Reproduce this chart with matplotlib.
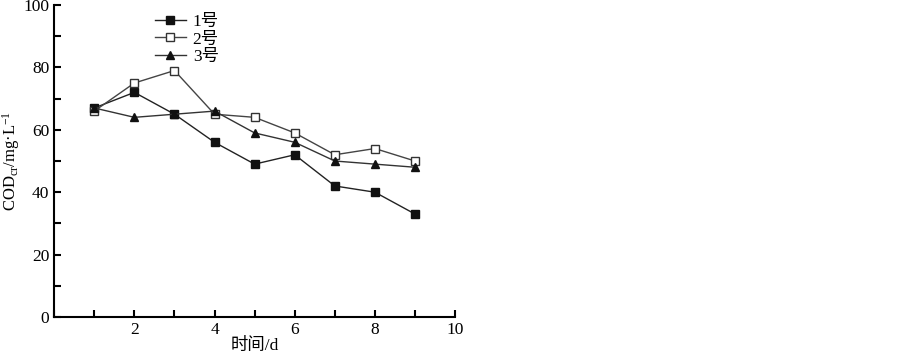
import matplotlib
matplotlib.use("Agg")
import matplotlib.pyplot as plt
from matplotlib.ticker import MultipleLocator

plt.rcParams['font.family'] = ['Liberation Serif', 'Noto Sans CJK SC']
plt.rcParams['mathtext.fontset'] = 'custom'
plt.rcParams['mathtext.rm'] = 'Liberation Serif'
plt.rcParams['mathtext.it'] = 'Liberation Serif'

days = [1, 2, 3, 4, 5, 6, 7, 8, 9]
cod_1 = [67, 72, 65, 56, 49, 52, 42, 40, 33]
cod_2 = [66, 75, 79, 65, 64, 59, 52, 54, 50]
cod_3 = [67, 64, 65, 66, 59, 56, 50, 49, 48]
labels = ['1号', '2号', '3号']

fig = plt.figure(figsize=(9.03, 3.59), dpi=100)
ax = fig.add_axes([0.06, 0.117, 0.444, 0.869])

ax.plot(days, cod_1, color='#222222', lw=1.0, marker='s', ms=5.5,
        mfc='#111111', mec='#111111', label=labels[0])
ax.plot(days, cod_2, color='#444444', lw=1.0, marker='s', ms=5.5,
        mfc='white', mec='#333333', label=labels[1])
ax.plot(days, cod_3, color='#333333', lw=1.0, marker='^', ms=6,
        mfc='#111111', mec='#111111', label=labels[2])

ax.set_xlim(0, 10)
ax.set_ylim(0, 100)
ax.set_xticks([2, 4, 6, 8, 10])
ax.xaxis.set_minor_locator(MultipleLocator(1))
ax.set_yticks([0, 20, 40, 60, 80, 100])
ax.yaxis.set_minor_locator(MultipleLocator(10))
ax.tick_params(which='both', direction='in', width=1.5, labelsize=12.5)
ax.tick_params(which='major', length=5)
ax.tick_params(which='minor', length=5)

for side in ['top', 'right']:
    ax.spines[side].set_visible(False)
for side in ['left', 'bottom']:
    ax.spines[side].set_linewidth(1.5)

ax.set_xlabel('时间/d', fontsize=12.5, labelpad=0)
ax.set_ylabel(r'COD$_{\rm cr}$/mg·L$^{-1}$', fontsize=12, labelpad=1)

ax.legend(loc='upper left', bbox_to_anchor=(0.22, 1.012), frameon=False,
          fontsize=12.5, handlelength=1.8, handletextpad=0.4,
          labelspacing=0.1, borderpad=0.2)

fig.savefig('out.png', dpi=100)
